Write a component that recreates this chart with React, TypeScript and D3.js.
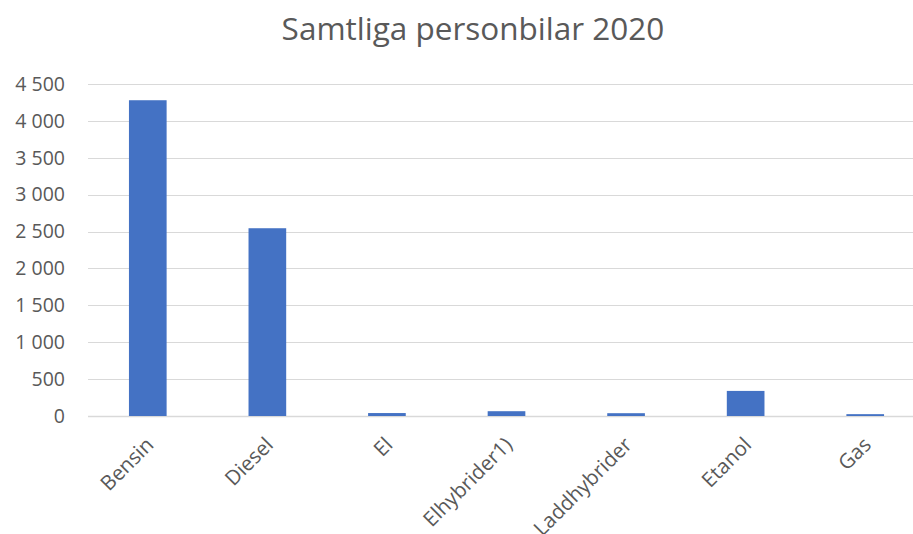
import * as React from 'react';
import {useEffect, useRef} from 'react';
import * as d3 from 'd3';

const width = 913;
const height = 534;

const categories = ['Bensin', 'Diesel', 'El', 'Elhybrider1)', 'Laddhybrider', 'Etanol', 'Gas'];
const values = [4280, 2545, 40, 65, 38, 340, 25];
const yTicks = [0, 500, 1000, 1500, 2000, 2500, 3000, 3500, 4000, 4500];

const margin = {top: 84, left: 88, right: -12, bottom: 118};
const font = '"Open Sans", "Liberation Sans", sans-serif';
const textColor = '#595959';

const formatTick = (v: number) => d3.format(',d')(v).replace(/,/g, ' ');

export default function App() {
  const ref = useRef<SVGSVGElement>(null);

  useEffect(() => {
    const svg = d3.select(ref.current);
    svg.selectAll('*').remove();

    const x = d3.scaleBand<string>()
      .domain(categories)
      .range([margin.left, width - margin.right])
      .paddingInner(0.685)
      .paddingOuter(0.3425);

    const y = d3.scaleLinear()
      .domain([0, 4500])
      .range([height - margin.bottom, margin.top]);

    // title
    svg.append('text')
      .attr('x', 473)
      .attr('y', 40)
      .attr('text-anchor', 'middle')
      .style('font', `31.5px ${font}`)
      .attr('fill', textColor)
      .text('Samtliga personbilar 2020');

    // gridlines
    svg.append('g')
      .selectAll('line')
      .data(yTicks)
      .join('line')
      .attr('x1', margin.left)
      .attr('x2', width)
      .attr('y1', d => Math.round(y(d)) + 0.5)
      .attr('y2', d => Math.round(y(d)) + 0.5)
      .attr('stroke', '#d9d9d9')
      .attr('stroke-width', d => d === 0 ? 1.5 : 1);

    // y tick labels
    svg.append('g')
      .selectAll('text')
      .data(yTicks)
      .join('text')
      .attr('x', 65)
      .attr('y', d => y(d))
      .attr('dy', '0.35em')
      .attr('text-anchor', 'end')
      .style('font', `19.5px ${font}`)
      .attr('fill', textColor)
      .text(d => formatTick(d));

    // bars
    svg.append('g')
      .selectAll('rect')
      .data(values)
      .join('rect')
      .attr('x', (d, i) => x(categories[i])!)
      .attr('width', x.bandwidth())
      .attr('y', d => y(d))
      .attr('height', d => y(0) - y(d))
      .attr('fill', '#4472C4');

    // x labels rotated
    svg.append('g')
      .selectAll('text')
      .data(categories)
      .join('text')
      .attr('transform', d => `translate(${x(d)! + x.bandwidth() / 2 + 2},${y(0) + 25}) rotate(-45)`)
      .attr('text-anchor', 'end')
      .attr('dy', '0.35em')
      .style('font', `20.5px ${font}`)
      .attr('fill', textColor)
      .text(d => d);
  }, []);

  return (
    <svg ref={ref} width={width} height={height}
      style={{position: 'absolute', left: 0, top: 0, background: '#fff'}}/>
  );
}
